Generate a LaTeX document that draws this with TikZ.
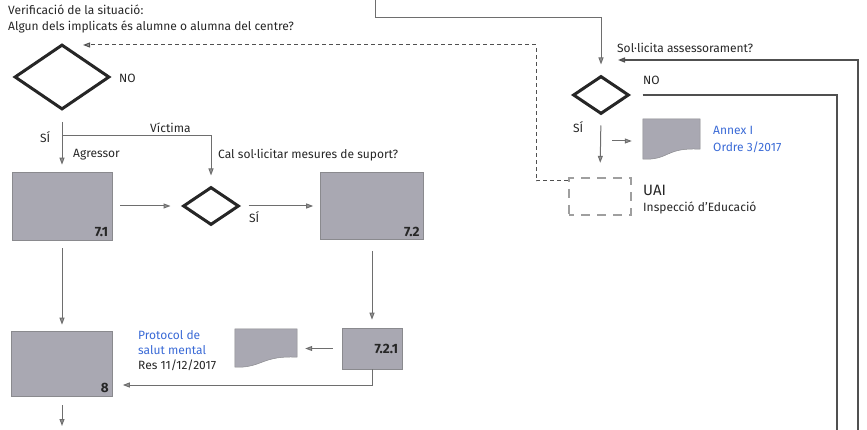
\documentclass[tikz,border=0pt]{standalone}
\usepackage{fontspec}
\setmainfont{Fira Sans}
\usetikzlibrary{shapes.geometric,arrows.meta,calc}
\definecolor{boxgrey}{HTML}{A9A8B2}
\definecolor{edgegrey}{HTML}{8A8A8E}
\definecolor{linegrey}{HTML}{6E6E6E}
\definecolor{darkline}{HTML}{505050}
\definecolor{linkblue}{HTML}{3A6AD6}
\definecolor{txtgrey}{HTML}{262626}
\begin{document}
\begin{tikzpicture}[x=1pt,y=-1pt,
  font=\fontsize{12}{14}\selectfont,
  box/.style={draw=edgegrey, fill=boxgrey, line width=0.6pt, inner sep=0pt},
  docbox/.style={inner sep=0pt},
  dec/.style={diamond, draw=txtgrey, line width=3pt, inner sep=0pt},
  uaibox/.style={draw=gray!75, line width=2.4pt, dash pattern=on 9pt off 7pt, dash phase=4pt, inner sep=0pt, minimum width=62pt, minimum height=37pt},
  conn/.style={draw=linegrey, line width=1pt, -{Triangle[length=7pt,width=5pt,fill=linegrey!70]}},
  longline/.style={draw=darkline, line width=1.4pt},
  dashconn/.style={draw=darkline, line width=1pt, dash pattern=on 4pt off 3pt, -{Triangle[length=7pt,width=5pt,fill=linegrey!70]}},
  txt/.style={anchor=west, inner sep=0pt, text=txtgrey},
  bluetxt/.style={anchor=west, inner sep=0pt, text=linkblue},
  boxlbl/.style={anchor=south east, inner sep=0pt, text=txtgrey, font=\fontsize{13.5}{15}\selectfont\bfseries}
]
\useasboundingbox (0,0) rectangle (867,430);

% texts top-left
\node[txt] (t1) at (8,10) {Verificació de la situació:};
\node[txt] (t2) at (8,27) {Algun dels implicats és alumne o alumna del centre?};

% decisions
\node[dec, minimum width=95pt, minimum height=65pt] (dq) at (62,77) {};
\node[dec, minimum width=56pt, minimum height=38pt] (d1) at (211,206) {};
\node[dec, minimum width=56pt, minimum height=38pt] (d3) at (601,95) {};

% boxes
\node[box, minimum width=100pt, minimum height=68pt] (r71) at (62,206) {};
\node[box, minimum width=103pt, minimum height=67pt] (r72) at (372,206) {};
\node[box, minimum width=101pt, minimum height=65pt] (r8) at (62,363.5) {};
\node[box, minimum width=60pt, minimum height=41pt] (r721) at (372,348.5) {};
\node[boxlbl] (l71) at ($(r71.south east)+(-4,-3)$) {7.1};
\node[boxlbl] (l72) at ($(r72.south east)+(-4,-3)$) {7.2};
\node[boxlbl] (l8) at ($(r8.south east)+(-4,-3)$) {8};
\node[boxlbl, anchor=east] (l721) at ($(r721.east)+(-4,0)$) {7.2.1};

% documents
\node[docbox, minimum width=62pt, minimum height=39pt] (doc1) at (266,348.5) {};
\node[docbox, minimum width=57pt, minimum height=41pt] (doc2) at (671.5,139.5) {};
\foreach \d in {doc1,doc2}{
  \filldraw[fill=boxgrey, draw=edgegrey, line width=0.5pt]
    (\d.north west) -- (\d.north east) -- ($(\d.south east)+(0,-11)$)
    .. controls ($(\d.south east)+(-35,-13)$) and ($(\d.south west)+(27,0)$) .. ($(\d.south west)+(0,-1)$) -- cycle;
}

% UAI box
\node[uaibox] (uai) at (600,196.5) {};

% labels
\node[txt] (no1) at (119,78) {NO};
\node[txt] (si1) at (40,137) {SÍ};
\node[txt] (vic) at (150,128) {Víctima};
\node[txt] (agr) at (73,155) {Agressor};
\node[txt] (cal) at (218,155) {Cal sol·licitar mesures de suport?};
\node[txt] (si2) at (249,217) {SÍ};
\node[bluetxt] (p1) at (138,335) {Protocol de};
\node[bluetxt] (p2) at (138,350) {salut mental};
\node[txt] (p3) at (138,365) {Res 11/12/2017};
\node[txt] (sol) at (617,48) {Sol·licita assessorament?};
\node[txt] (no2) at (643,80) {NO};
\node[txt] (si3) at (573,127) {SÍ};
\node[bluetxt] (a1) at (713,130) {Annex I};
\node[bluetxt] (a2) at (713,147) {Ordre 3/2017};
\node[txt, font=\fontsize{15}{17}\selectfont] (uait) at (643,190) {UAI};
\node[txt] (insp) at (643,208) {Inspecció d'Educació};

% coordinates
\coordinate (br) at (62,136);
\coordinate (topin) at (375,0);
\coordinate (toph) at (375,18);
\coordinate (dqin) at (83,45);
\coordinate (dcorner) at (536,45);
\coordinate (ax) at (612,141);
\coordinate (noend) at (837,430);
\coordinate (retstart) at (858,430);
\coordinate (retin) at (618,60);
\coordinate (out8) at (62,426);

% connectors left part
\draw[conn, shorten <=11pt, shorten >=7pt] (dq.south) -- (r71.north);
\draw[conn, shorten >=10pt] (br) -| (d1.north);
\draw[conn, shorten <=8pt, shorten >=11pt] (r71.east) -- (d1.west);
\draw[conn, shorten <=8pt, shorten >=7pt] (d1.east) -- (r72.west);
\draw[conn, shorten <=11pt, shorten >=8pt] (r72.south) -- (r721.north);
\draw[conn, shorten <=8pt, shorten >=6pt] (r71.south) -- (r8.north);
\draw[conn, shorten <=9pt, shorten >=8pt] (r721.west) -- (doc1.east);
\draw[conn, shorten >=10pt] (r721.south) |- ([yshift=-21.5pt]r8.east);
\draw[conn, shorten <=9pt] (r8.south) -- (out8);

% connectors right part
\draw[conn, shorten >=10pt] (topin) -- (toph) -| (d3.north);
\draw[conn, shorten <=10pt, shorten >=14pt] (d3.south) -- (uai.north);
\draw[conn, shorten >=11pt] (ax) -- (ax -| doc2.west);
\draw[dashconn] ([yshift=-4pt]uai.north west) -| (dcorner) -- (dqin);
\draw[longline, shorten <=12pt] (d3.east) -| (noend);
\draw[longline, -{Triangle[length=7pt,width=5pt,fill=linegrey!70]}] (retstart) |- (retin);
\end{tikzpicture}
\end{document}
